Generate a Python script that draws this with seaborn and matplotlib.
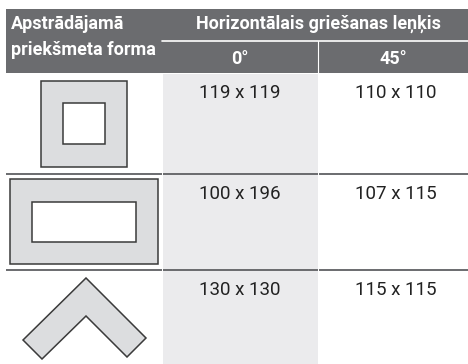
import matplotlib.pyplot as plt
import matplotlib.patches as mpatches
from matplotlib import font_manager
import seaborn as sns

# Table content
header_left = ["Apstrādājamā", "priekšmeta forma"]
header_group = "Horizontālais griešanas leņķis"
angles = ["0°", "45°"]
shapes = ["square", "rectangle", "angle"]
cuts_0 = ["119 x 119", "100 x 196", "130 x 130"]
cuts_45 = ["110 x 110", "107 x 115", "115 x 115"]

sns.set_theme(style="white")
names = {f.name for f in font_manager.fontManager.ttflist}
narrow = "Liberation Sans Narrow" if "Liberation Sans Narrow" in names else "Roboto"
plt.rcParams['font.family'] = [narrow, 'DejaVu Sans']

W, H = 468, 364
fig = plt.figure(figsize=(W / 100, H / 100), dpi=100)
ax = fig.add_axes([0, 0, 1, 1])
ax.set_xlim(0, W)
ax.set_ylim(H, 0)
ax.axis("off")

dark = "#6b6c6f"
light_col = "#ebebed"
shape_fill = "#dcdddf"
edge = "#3a3a3a"
rule = "#5f6063"

x0, x1, x2, x3 = 6, 162, 318, 468
head_top, head_bot = 9, 73
row_edges = [73, 174, 270, 364]
hsize = 13
vsize = 13.5

# header block
ax.add_patch(mpatches.Rectangle((x0, head_top), x3 - x0, head_bot - head_top,
                                facecolor=dark, edgecolor="none"))
ax.plot([x1, x3], [41, 41], color="white", lw=1.2)
ax.plot([x2, x2], [41, head_bot], color="white", lw=0.8)
ax.text(x0 + 5, 24, header_left[0], color="white", fontsize=hsize,
        fontweight="bold", va="center", ha="left")
ax.text(x0 + 5, 50, header_left[1], color="white", fontsize=hsize,
        fontweight="bold", va="center", ha="left")
ax.text((x1 + x3) / 2 + 3, 24, header_group, color="white", fontsize=hsize,
        fontweight="bold", va="center", ha="center")
ax.text((x1 + x2) / 2, 59, angles[0], color="white", fontsize=hsize,
        fontweight="bold", va="center", ha="center")
ax.text((x2 + x3) / 2, 59, angles[1], color="white", fontsize=hsize,
        fontweight="bold", va="center", ha="center")

# shaded 0° column
ax.add_patch(mpatches.Rectangle((x1 + 0.5, head_bot + 1), x2 - x1 - 1, H - head_bot,
                                facecolor=light_col, edgecolor="none"))

# row rules
for y in row_edges[1:-1]:
    for a, b in [(x0, x1), (x1 + 1, x2), (x2 + 1, x3)]:
        ax.plot([a, b - 0.5], [y, y], color=rule, lw=1.3, solid_capstyle="butt")

# row values
for i in range(len(shapes)):
    ytxt = row_edges[i] + 20
    ax.text((x1 + x2) / 2, ytxt, cuts_0[i], fontsize=vsize, color="#222222",
            ha="center", va="center")
    ax.text((x2 + x3) / 2 + 3, ytxt, cuts_45[i], fontsize=vsize, color="#222222",
            ha="center", va="center")

# workpiece icons
def frame(ax, outer, inner):
    ox, oy, ow, oh = outer
    ix, iy, iw, ih = inner
    ax.add_patch(mpatches.Rectangle((ox, oy), ow, oh, facecolor=shape_fill,
                                    edgecolor=edge, lw=1.1))
    ax.add_patch(mpatches.Rectangle((ix, iy), iw, ih, facecolor="white",
                                    edgecolor=edge, lw=1.1))

frame(ax, (41, 81, 86, 86), (63, 103, 42, 41))
frame(ax, (10, 179, 148, 85), (32, 202, 104, 40))
chevron = [(86, 278), (146, 338), (127, 357), (86, 316), (42, 359), (23, 340)]
ax.add_patch(mpatches.Polygon(chevron, closed=True, facecolor=shape_fill,
                              edgecolor=edge, lw=1.1, joinstyle="miter"))

fig.savefig("out.png", dpi=100)
